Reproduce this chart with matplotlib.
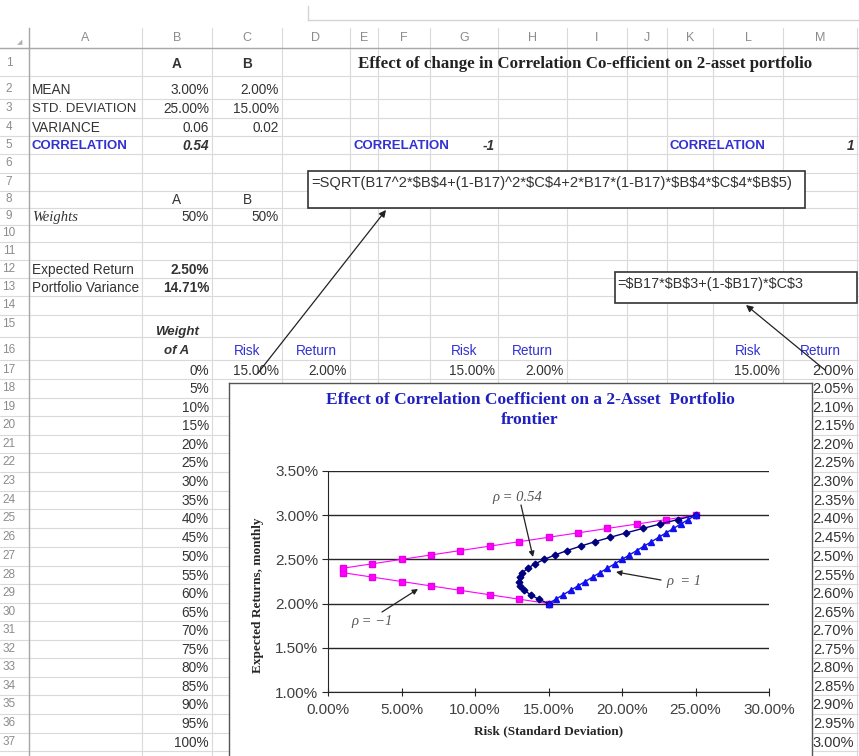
import matplotlib
matplotlib.use("Agg")
import matplotlib.pyplot as plt
from matplotlib.patches import Rectangle
from matplotlib.ticker import FuncFormatter, MultipleLocator

plt.rcParams["font.family"] = ["Liberation Sans", "DejaVu Sans"]

# ---- sheet inputs (rows 1-13)
asset_names = ["A", "B"]
mean_pct = [3.00, 2.00]
std_pct = [25.00, 15.00]
variance = [0.06, 0.02]
corr_main = 0.54
weights_ab = [50, 50]
exp_return_pct = 2.50
port_var_pct = 14.71
corr_cases = [-1, 1]

# ---- weight of A and portfolio results (rows 17-37)
weight_a = [0, 5, 10, 15, 20, 25, 30, 35, 40, 45, 50,
            55, 60, 65, 70, 75, 80, 85, 90, 95, 100]
port_return = [2.00, 2.05, 2.10, 2.15, 2.20, 2.25, 2.30, 2.35, 2.40, 2.45, 2.50,
               2.55, 2.60, 2.65, 2.70, 2.75, 2.80, 2.85, 2.90, 2.95, 3.00]
risk_neg1 = [15, 13, 11, 9, 7, 5, 3, 1, 1, 3, 5,
             7, 9, 11, 13, 15, 17, 19, 21, 23, 25]
risk_054 = [15.00, 14.33, 13.78, 13.36, 13.09, 12.98, 13.03, 13.23, 13.59, 14.08, 14.71,
            15.44, 16.27, 17.18, 18.16, 19.20, 20.28, 21.41, 22.58, 23.78, 25.00]
risk_pos1 = [15.0, 15.5, 16.0, 16.5, 17.0, 17.5, 18.0, 18.5, 19.0, 19.5, 20.0,
             20.5, 21.0, 21.5, 22.0, 22.5, 23.0, 23.5, 24.0, 24.5, 25.0]

formula_risk = "=SQRT(B17^2*$B$4+(1-B17)^2*$C$4+2*B17*(1-B17)*$B$4*$C$4*$B$5)"
formula_ret = "=$B17*$B$3+(1-$B17)*$C$3"

W, H = 859, 756
fig = plt.figure(figsize=(W / 100, H / 100), dpi=100)
ax = fig.add_axes([0, 0, 1, 1])
ax.set_xlim(0, W)
ax.set_ylim(H, 0)
ax.axis("off")

# sheet layout in pixels
cols = {"A": (29, 142), "B": (142, 212), "C": (212, 282), "D": (282, 350),
        "E": (350, 378), "F": (378, 430), "G": (430, 498), "H": (498, 567),
        "I": (567, 627), "J": (627, 667), "K": (667, 713), "L": (713, 783),
        "M": (783, 857)}
row_c = [40, 63, 89, 108, 127, 145, 163, 182, 199, 216, 233, 251, 269, 287, 305,
         324, 350, 370, 388, 407, 425, 444, 462, 481, 500, 518, 537, 556, 575,
         593, 612, 630, 649, 667, 686, 704, 723, 742, 760]
edges = [48] + [(row_c[i] + row_c[i + 1]) / 2 for i in range(1, len(row_c) - 1)]

grid_c = "#dadada"
for y in edges:
    ax.plot([0, W], [y, y], color=grid_c, lw=0.8)
col_edges = sorted(set([v for lr in cols.values() for v in lr]))
for x in col_edges:
    ax.plot([x, x], [28, H], color=grid_c, lw=0.8)
ax.plot([0, W], [48, 48], color="#a8a8a8", lw=1)
ax.plot([29, 29], [28, H], color="#a8a8a8", lw=1)
ax.plot([308, W], [20, 20], color="#d4d4d4", lw=1)
ax.plot([308, 308], [6, 20], color="#d4d4d4", lw=1)
ax.text(20, 42, "\u25e2", fontsize=5, color="#b0b0b0", ha="center", va="center",
        family="DejaVu Sans")

for name, (l, r) in cols.items():
    ax.text((l + r) / 2, 38, name, ha="center", va="center", fontsize=9, color="#8c8c8c")
for r in range(1, 38):
    ax.text(9, row_c[r], str(r), ha="center", va="center", fontsize=8.5, color="#8c8c8c")

txt_c = "#333333"
blue_c = "#3232d2"


def cell(col, row, s, align="left", clip=None, **kw):
    l, r = cols[col]
    y = row_c[row] + 1
    x = {"left": l + 3, "right": r - 3, "center": (l + r) / 2}[align]
    kw.setdefault("color", txt_c)
    kw.setdefault("fontsize", 9.8)
    t = ax.text(x, y, s, ha=align, va="center", parse_math=False, **kw)
    if clip is not None:
        rect = Rectangle((clip[0], y - 10), clip[1] - clip[0], 20, transform=ax.transData)
        t.set_clip_path(rect)
    return t


cell("B", 1, asset_names[0], "center", weight="bold")
cell("C", 1, asset_names[1], "center", weight="bold")
ax.text(358, row_c[1] + 1, "Effect of change in Correlation Co-efficient on 2-asset portfolio",
        ha="left", va="center", fontsize=12.2, weight="bold", family="Liberation Serif",
        color="#222222")

cell("A", 2, "MEAN")
cell("A", 3, "STD. DEVIATION", fontsize=9.5)
cell("A", 4, "VARIANCE")
cell("A", 5, "CORRELATION", color=blue_c, weight="bold", fontsize=9.5)
for i, col in enumerate(["B", "C"]):
    cell(col, 2, f"{mean_pct[i]:.2f}%", "right")
    cell(col, 3, f"{std_pct[i]:.2f}%", "right")
    cell(col, 4, f"{variance[i]:.2f}", "right")
cell("B", 5, f"{corr_main:.2f}", "right", weight="bold", style="italic")
cell("E", 5, "CORRELATION", color=blue_c, weight="bold", fontsize=9.5, clip=(350, 430))
cell("G", 5, f"{corr_cases[0]}", "right", weight="bold", style="italic")
cell("K", 5, "CORRELATION", color=blue_c, weight="bold", fontsize=9.5)
cell("M", 5, f"{corr_cases[1]}", "right", weight="bold", style="italic")

cell("B", 8, asset_names[0], "center")
cell("C", 8, asset_names[1], "center")
cell("A", 9, "Weights", family="Liberation Serif", style="italic", fontsize=10.5)
cell("B", 9, f"{weights_ab[0]}%", "right")
cell("C", 9, f"{weights_ab[1]}%", "right")
cell("A", 12, "Expected Return")
cell("B", 12, f"{exp_return_pct:.2f}%", "right", weight="bold")
cell("A", 13, "Portfolio Variance", clip=(29, 142))
cell("B", 13, f"{port_var_pct:.2f}%", "right", weight="bold")
ax.text(177, 332, "Weight", ha="center", va="center", fontsize=9.5, weight="bold",
        style="italic", color=txt_c)
ax.text(177, 351, "of A", ha="center", va="center", fontsize=9.5, weight="bold",
        style="italic", color=txt_c)

for c_risk, c_ret in [("C", "D"), ("G", "H"), ("L", "M")]:
    cell(c_risk, 16, "Risk", "center", color=blue_c)
    cell(c_ret, 16, "Return", "center", color=blue_c)
cell("C", 17, f"{risk_054[0]:.2f}%", "right")
cell("D", 17, f"{port_return[0]:.2f}%", "right")
cell("G", 17, f"{risk_neg1[0]:.2f}%", "right")
cell("H", 17, f"{port_return[0]:.2f}%", "right")
cell("L", 17, f"{risk_pos1[0]:.2f}%", "right")

for i, w in enumerate(weight_a):
    cell("B", 17 + i, f"{w}%", "right")
    cell("M", 17 + i, f"{port_return[i]:.2f}%", "right", fontsize=10.5)

# formula boxes and pointers
ax.add_patch(Rectangle((308, 171), 497, 37, facecolor="white", edgecolor="#333333",
                       lw=1.2, zorder=3))
ax.text(311, 183, formula_risk, ha="left", va="center", fontsize=10.6, color=txt_c,
        zorder=4, parse_math=False)
ax.add_patch(Rectangle((615, 272), 242, 31, facecolor="white", edgecolor="#333333",
                       lw=1.2, zorder=3))
ax.text(617, 284, formula_ret, ha="left", va="center", fontsize=10.4, color=txt_c,
        zorder=4, parse_math=False)
arrow_kw = dict(arrowstyle="-|>", color="#222222", lw=0.9, mutation_scale=10,
                shrinkA=0, shrinkB=0)
ax.annotate("", xy=(386, 210), xytext=(258, 373), arrowprops=arrow_kw, zorder=5)
ax.annotate("", xy=(746, 305), xytext=(825, 370), arrowprops=arrow_kw, zorder=5)


def fr(x0, y0, x1, y1):
    return [x0 / W, (H - y1) / H, (x1 - x0) / W, (y1 - y0) / H]


# ---- embedded chart
cax = fig.add_axes(fr(229, 383, 812, 760))
cax.set_xticks([])
cax.set_yticks([])
cax.set_facecolor("white")
for s in cax.spines.values():
    s.set_color("#555555")
    s.set_linewidth(1)

pax = fig.add_axes(fr(328, 471, 769, 692))
pax.set_facecolor("white")
pax.plot(risk_neg1, port_return, color="#ff00ff", lw=0.8, marker="s", ms=5,
         mec="#e600e6", mfc="#ff00ff")
pax.plot(risk_054, port_return, color="#000080", lw=1, marker="D", ms=3.4)
pax.plot(risk_pos1, port_return, color="#1010ee", lw=1, marker="^", ms=4.4)
pax.set_xlim(0, 30)
pax.set_ylim(1.0, 3.5)
pax.xaxis.set_major_locator(MultipleLocator(5))
pax.yaxis.set_major_locator(MultipleLocator(0.5))
pct = FuncFormatter(lambda v, _: f"{v:.2f}%")
pax.xaxis.set_major_formatter(pct)
pax.yaxis.set_major_formatter(pct)
pax.yaxis.grid(True, color="#262626", lw=1)
pax.set_axisbelow(True)
for s in ["top", "right"]:
    pax.spines[s].set_visible(False)
for s in ["left", "bottom"]:
    pax.spines[s].set_color("#262626")
pax.tick_params(axis="y", direction="out", length=4, pad=3, labelsize=11,
                labelcolor="#404040", color="#262626")
pax.tick_params(axis="x", direction="inout", length=6, pad=5, labelsize=11,
                labelcolor="#404040", color="#262626")

title_c = "#2020c0"
fig.text(530 / W, 1 - 400 / H, "Effect of Correlation Coefficient on a 2-Asset  Portfolio",
         ha="center", va="center", fontsize=12.5, weight="bold", family="Liberation Serif",
         color=title_c)
fig.text(530 / W, 1 - 420 / H, "frontier", ha="center", va="center", fontsize=12.5,
         weight="bold", family="Liberation Serif", color=title_c)
fig.text(549 / W, 1 - 731 / H, "Risk (Standard Deviation)", ha="center", va="center",
         fontsize=9.5, weight="bold", family="Liberation Serif", color="#262626")
fig.text(258 / W, 1 - 595 / H, "Expected Returns, monthly", ha="center", va="center",
         rotation=90, fontsize=9.5, weight="bold", family="Liberation Serif", color="#262626")

rho_kw = dict(fontsize=10.5, style="italic", family="Liberation Serif", color="#555555",
              ha="center", va="center")
fig.text(517 / W, 1 - 497 / H, "\u03c1 = 0.54", **rho_kw)
fig.text(684 / W, 1 - 582 / H, "\u03c1  = 1", **rho_kw)
fig.text(372 / W, 1 - 622 / H, "\u03c1 = \u22121", **rho_kw)
fig_arrow = dict(arrowstyle="-|>", color="#222222", lw=0.9, mutation_scale=8,
                 shrinkA=0, shrinkB=0)
for tip, tail in [((533, 557), (521, 505)), ((616, 572), (661, 580)), ((418, 589), (382, 612))]:
    pax.annotate("", xy=(tip[0], H - tip[1]), xycoords="figure pixels",
                 xytext=(tail[0], H - tail[1]), textcoords="figure pixels",
                 arrowprops=fig_arrow, annotation_clip=False)

fig.savefig("out.png", dpi=100)
